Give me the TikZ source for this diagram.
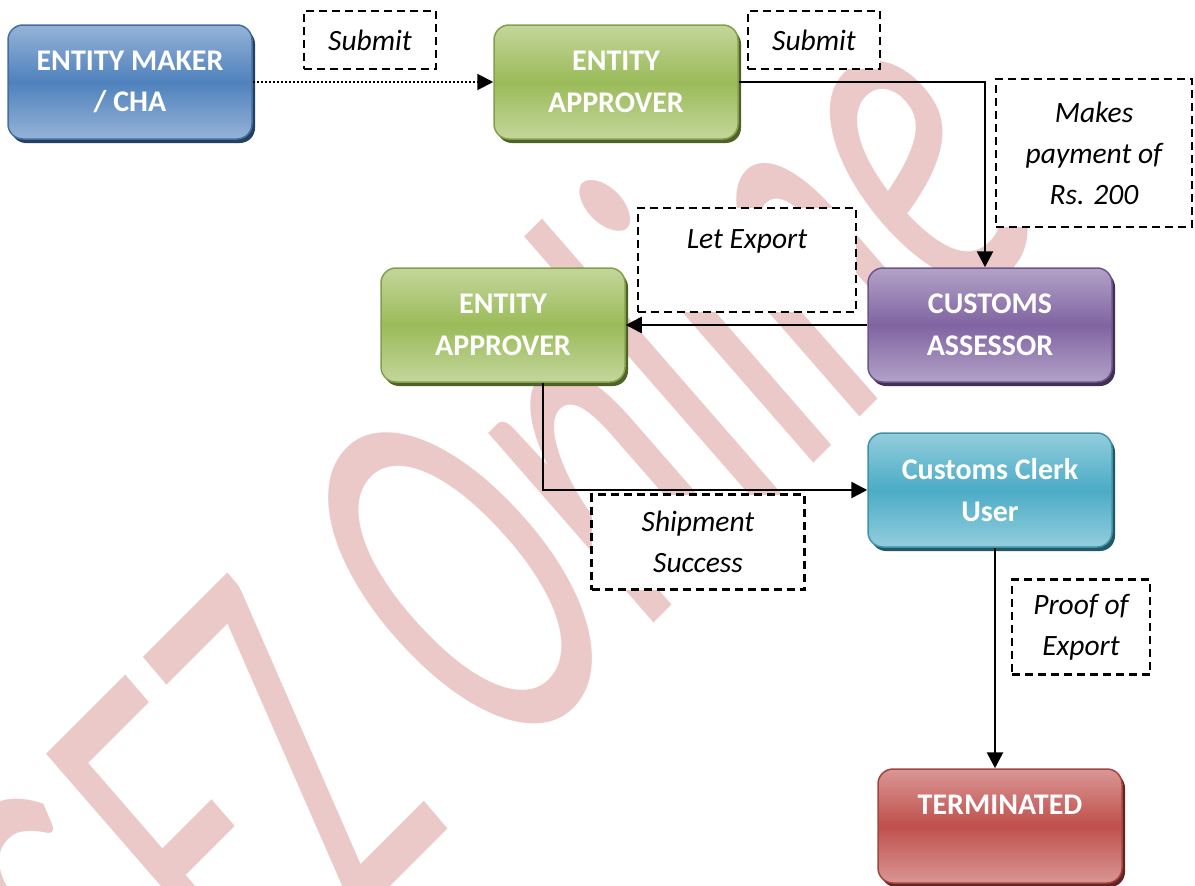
\documentclass[tikz,border=0pt]{standalone}
\usepackage{fontspec}
\setmainfont{Carlito}
\usetikzlibrary{arrows.meta,shadows}

\definecolor{wmPink}{RGB}{236,201,201}
\definecolor{blueTop}{RGB}{149,179,215}
\definecolor{blueMid}{RGB}{79,129,189}
\definecolor{blueShd}{RGB}{37,64,97}
\definecolor{greenTop}{RGB}{195,214,155}
\definecolor{greenMid}{RGB}{155,187,89}
\definecolor{greenShd}{RGB}{79,98,40}
\definecolor{purpTop}{RGB}{179,162,199}
\definecolor{purpMid}{RGB}{128,100,162}
\definecolor{purpShd}{RGB}{63,49,81}
\definecolor{cyanTop}{RGB}{147,205,221}
\definecolor{cyanMid}{RGB}{75,172,198}
\definecolor{cyanShd}{RGB}{33,89,104}
\definecolor{redTop}{RGB}{217,150,148}
\definecolor{redMid}{RGB}{192,80,77}
\definecolor{redShd}{RGB}{99,37,35}

\tikzset{
  flowbox/.style={rounded corners=15pt, minimum width=244pt, minimum height=114pt,
    inner sep=0pt, align=center, text=white, line width=1.5pt,
    font=\bfseries\fontsize{30}{41.5}\selectfont},
  boxcol/.style n args={3}{draw=#2!85!black, top color=#1, bottom color=#1, middle color=#2,
    general shadow={fill=#3, shadow xshift=3pt, shadow yshift=-4pt}},
  tagbox/.style={draw, fill=white, line width=2.5pt, dash pattern=on 8pt off 5pt,
    inner sep=0pt, align=center, font=\itshape\fontsize{29.5}{41}\selectfont},
  conn/.style={line width=2.7pt, -{Triangle[length=16pt,width=16pt]}},
}

\begin{document}
\begin{tikzpicture}[x=1pt, y=-1pt]
    \useasboundingbox (0,0) rectangle (1195,886);

    % watermark
    \begin{scope}
        \clip (0,0) rectangle (1195,886);
        \begin{scope}[shift={(162,1115)}, rotate=45, yscale=1.75]
            \node[transform shape, anchor=base west, inner sep=0pt, text=wmPink,
                font=\itshape\fontsize{300}{300}\selectfont] (wmark) at (0,0) {SEZ Online};
        \end{scope}
    \end{scope}

    \node[flowbox, boxcol={blueTop}{blueMid}{blueShd}] (maker) at (130,82) {ENTITY MAKER\\/ CHA};
    \node[flowbox, boxcol={greenTop}{greenMid}{greenShd}] (apprA) at (616,82) {ENTITY\\APPROVER};
    \node[flowbox, boxcol={purpTop}{purpMid}{purpShd}] (assessor) at (990,325) {CUSTOMS\\ASSESSOR};
    \node[flowbox, boxcol={greenTop}{greenMid}{greenShd}] (apprB) at (503,325) {ENTITY\\APPROVER};
    \node[flowbox, boxcol={cyanTop}{cyanMid}{cyanShd}] (clerk) at (990,490) {Customs Clerk\\User};
    \node[flowbox, boxcol={redTop}{redMid}{redShd}] (term) at (1000,826) {TERMINATED\\\mbox{}};

    \node[tagbox, minimum width=132pt, minimum height=58pt] (tSubA) at (370,40) {Submit};
    \node[tagbox, minimum width=132pt, minimum height=58pt] (tSubB) at (814,40) {Submit};
    \node[tagbox, minimum width=196pt, minimum height=148pt] (tPay) at (1094,153) {Makes\\payment of\\Rs. 200};
    \node[tagbox, minimum width=218pt, minimum height=104pt] (tLet) at (747,260) {Let Export\\\mbox{}};
    \node[tagbox, minimum width=213pt, minimum height=95pt] (tShip) at (698,542) {Shipment\\Success};
    \node[tagbox, minimum width=138pt, minimum height=95pt] (tProof) at (1081,627) {Proof of\\Export};

    \draw[conn, line width=2pt, dash pattern=on 2pt off 2pt] (maker.east) -- (apprA.west);
    \draw[conn] (apprA.east) -| ([xshift=-5pt]assessor.north);
    \draw[conn] (assessor.west) -- (apprB.east);
    \draw[conn] ([xshift=40pt]apprB.south) |- (clerk.west);
    \draw[conn] ([xshift=5pt]clerk.south) -- ([xshift=-5pt]term.north);

\end{tikzpicture}
\end{document}
